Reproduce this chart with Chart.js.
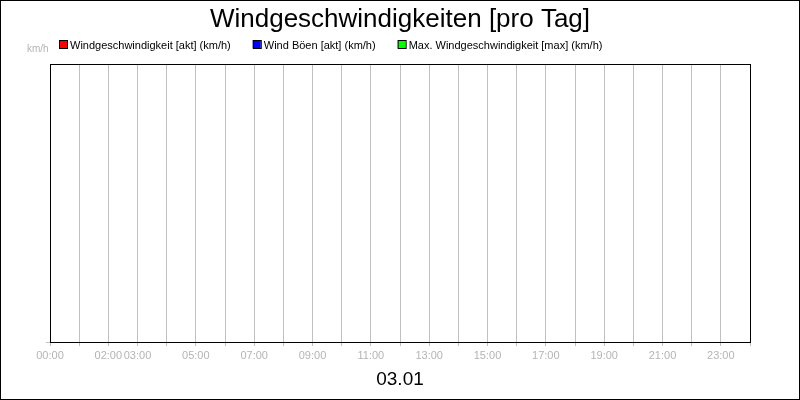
<!DOCTYPE html>
<html lang="de">
<head>
    <meta charset="UTF-8">
    <title>Windgeschwindigkeiten [pro Tag]</title>
    <script src="https://cdn.jsdelivr.net/npm/chart.js"></script>
    <style>
        html, body {
            margin: 0;
            padding: 0;
            background: #fff;
        }
        canvas {
            display: block;
        }
    </style>
</head>
<body>
    <canvas id="windChart" width="800" height="400"></canvas>

    <script>
        // hourly grid for the day
        const hours = [
            '00:00', '01:00', '02:00', '03:00', '04:00', '05:00', '06:00', '07:00',
            '08:00', '09:00', '10:00', '11:00', '12:00', '13:00', '14:00', '15:00',
            '16:00', '17:00', '18:00', '19:00', '20:00', '21:00', '22:00', '23:00', '24:00'
        ];
        // labels that are actually printed under the axis
        const shownTicks = [
            '00:00', '02:00', '03:00', '05:00', '07:00', '09:00', '11:00',
            '13:00', '15:00', '17:00', '19:00', '21:00', '23:00'
        ];

        // no measurements for this day
        const windSpeed = [];
        const windGusts = [];
        const maxWindSpeed = [];

        const seriesNames = [
            'Windgeschwindigkeit [akt] (km/h)',
            'Wind Böen [akt] (km/h)',
            'Max. Windgeschwindigkeit [max] (km/h)'
        ];
        const seriesColors = ['#ff0000', '#0000ff', '#00ff00'];

        const chartTitle = 'Windgeschwindigkeiten [pro Tag]';
        const unitLabel = 'km/h';
        const dayLabel = '03.01';

        const FONT = '"Liberation Sans", Arial, sans-serif';
        const GRID = '#c0c0c0';

        // title, legend, unit, date and frames
        const decorations = {
            id: 'decorations',
            afterDraw(chart) {
                const ctx = chart.ctx;
                const area = chart.chartArea;
                ctx.save();

                ctx.fillStyle = '#000';
                ctx.textAlign = 'center';
                ctx.textBaseline = 'alphabetic';
                ctx.font = '26px ' + FONT;
                ctx.fillText(chartTitle, 400, 27);

                // legend
                ctx.font = '11px ' + FONT;
                ctx.textAlign = 'left';
                let x = 59;
                chart.data.datasets.forEach((ds) => {
                    ctx.fillStyle = ds.borderColor;
                    ctx.fillRect(x, 40, 8, 8);
                    ctx.strokeStyle = '#000';
                    ctx.lineWidth = 1;
                    ctx.strokeRect(x + 0.5, 40.5, 8, 8);
                    ctx.fillStyle = '#000';
                    ctx.fillText(ds.label, x + 11, 49);
                    x += 11 + ctx.measureText(ds.label).width + 22;
                });

                ctx.fillStyle = '#b4b4b4';
                ctx.font = '10px ' + FONT;
                ctx.fillText(unitLabel, 27, 52);

                ctx.fillStyle = '#000';
                ctx.textAlign = 'center';
                ctx.font = '19px ' + FONT;
                ctx.fillText(dayLabel, 400, 385);

                // plot frame
                ctx.strokeStyle = '#000';
                ctx.lineWidth = 1;
                ctx.strokeRect(area.left + 0.5, area.top + 0.5, area.right - area.left, area.bottom - area.top);

                // outer frame
                ctx.strokeRect(0.5, 0.5, 799, 399);
                ctx.restore();
            }
        };

        new Chart(document.getElementById('windChart'), {
            type: 'line',
            data: {
                labels: hours,
                datasets: [
                    { label: seriesNames[0], data: windSpeed, borderColor: seriesColors[0], backgroundColor: seriesColors[0] },
                    { label: seriesNames[1], data: windGusts, borderColor: seriesColors[1], backgroundColor: seriesColors[1] },
                    { label: seriesNames[2], data: maxWindSpeed, borderColor: seriesColors[2], backgroundColor: seriesColors[2] }
                ]
            },
            options: {
                responsive: false,
                animation: false,
                layout: {
                    padding: { top: 64, right: 50, bottom: 0, left: 0 }
                },
                plugins: {
                    legend: { display: false },
                    title: { display: false },
                    tooltip: { enabled: false }
                },
                scales: {
                    x: {
                        offset: false,
                        grid: {
                            color: GRID,
                            offset: false,
                            tickLength: 4
                        },
                        border: { display: true, color: GRID },
                        ticks: {
                            autoSkip: false,
                            maxRotation: 0,
                            padding: 3,
                            color: '#b4b4b4',
                            font: { family: FONT, size: 11 },
                            callback: function (value, index) {
                                const h = hours[index];
                                return shownTicks.includes(h) ? h : '';
                            }
                        },
                        afterFit: (scale) => { scale.height = 58; }
                    },
                    y: {
                        min: 0,
                        max: 10,
                        grid: {
                            drawOnChartArea: false,
                            color: GRID,
                            tickLength: 4
                        },
                        border: { display: false },
                        ticks: { display: false },
                        afterBuildTicks: (scale) => { scale.ticks = [{ value: 0 }]; },
                        afterFit: (scale) => { scale.width = 50; }
                    }
                }
            },
            plugins: [decorations]
        });
    </script>
</body>
</html>
